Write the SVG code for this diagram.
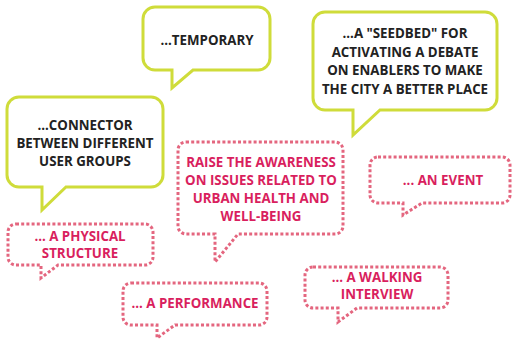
<svg xmlns="http://www.w3.org/2000/svg" width="513" height="339" viewBox="0 0 513 339">
<style>
.g{fill:#fff;stroke:#cfdc3a;stroke-width:3;stroke-linejoin:miter}
.p{fill:#fff;stroke:#e4667f;stroke-width:3;stroke-dasharray:3 2.2}
.t{font-family:"Open Sans","Liberation Sans",sans-serif;font-weight:bold;font-size:13.3px;text-anchor:middle}
.dk{fill:#222}
.pk{fill:#d91f5e}
</style>
<rect width="513" height="339" fill="#fff"/>
<g id="connectors"></g>
<g id="n-connector">
<path class="g" d="M19,97 H151 A12,12 0 0 1 163,109 V175 A12,12 0 0 1 151,187 H66 L42,210 V187 H19 A12,12 0 0 1 7,175 V109 A12,12 0 0 1 19,97 Z"/>
<text class="t dk" x="85" y="130">...CONNECTOR</text>
<text class="t dk" x="85" y="148">BETWEEN DIFFERENT</text>
<text class="t dk" x="85" y="166">USER GROUPS</text>
</g>
<g id="n-temporary">
<path class="g" d="M155,7 H258 A12,12 0 0 1 270,19 V58 A12,12 0 0 1 258,70 H193 L172,88 V70 H155 A12,12 0 0 1 143,58 V19 A12,12 0 0 1 155,7 Z"/>
<text class="t dk" x="207" y="45">...TEMPORARY</text>
</g>
<g id="n-seedbed">
<path class="g" d="M325,12 H485 A12,12 0 0 1 497,24 V98 A12,12 0 0 1 485,110 H380 L353,135 V110 H325 A12,12 0 0 1 313,98 V24 A12,12 0 0 1 325,12 Z"/>
<text class="t dk" x="405" y="38">...A "SEEDBED" FOR</text>
<text class="t dk" x="405" y="56.5">ACTIVATING A DEBATE</text>
<text class="t dk" x="405" y="75">ON ENABLERS TO MAKE</text>
<text class="t dk" x="405" y="93.5">THE CITY A BETTER PLACE</text>
</g>
<g id="n-physical">
<path class="p" d="M16,224 H145 A8,8 0 0 1 153,232 V257 A8,8 0 0 1 145,265 H58 L41,278 V265 H16 A8,8 0 0 1 8,257 V232 A8,8 0 0 1 16,224 Z"/>
<text class="t pk" x="80" y="241">... A PHYSICAL</text>
<text class="t pk" x="80" y="258">STRUCTURE</text>
</g>
<g id="n-raise">
<path class="p" d="M186,142 H335 A8,8 0 0 1 343,150 V226 A8,8 0 0 1 335,234 H238 L215,262 V234 H186 A8,8 0 0 1 178,226 V150 A8,8 0 0 1 186,142 Z"/>
<text class="t pk" x="261" y="167">RAISE THE AWARENESS</text>
<text class="t pk" x="261" y="185">ON ISSUES RELATED TO</text>
<text class="t pk" x="261" y="203">URBAN HEALTH AND</text>
<text class="t pk" x="261" y="221">WELL-BEING</text>
</g>
<g id="n-event">
<path class="p" d="M378,157 H502 A8,8 0 0 1 510,165 V195 A8,8 0 0 1 502,203 H422 L403,215 V203 H378 A8,8 0 0 1 370,195 V165 A8,8 0 0 1 378,157 Z"/>
<text class="t pk" x="443" y="185">... AN EVENT</text>
</g>
<g id="n-performance">
<path class="p" d="M131,283 H259 A8,8 0 0 1 267,291 V317 A8,8 0 0 1 259,325 H175 L157,338 V325 H131 A8,8 0 0 1 123,317 V291 A8,8 0 0 1 131,283 Z"/>
<text class="t pk" x="195" y="308">... A PERFORMANCE</text>
</g>
<g id="n-walking">
<path class="p" d="M313,267 H440 A8,8 0 0 1 448,275 V300 A8,8 0 0 1 440,308 H357 L338,322 V308 H313 A8,8 0 0 1 305,300 V275 A8,8 0 0 1 313,267 Z"/>
<text class="t pk" x="377" y="282">... A WALKING</text>
<text class="t pk" x="377" y="299">INTERVIEW</text>
</g>
</svg>
